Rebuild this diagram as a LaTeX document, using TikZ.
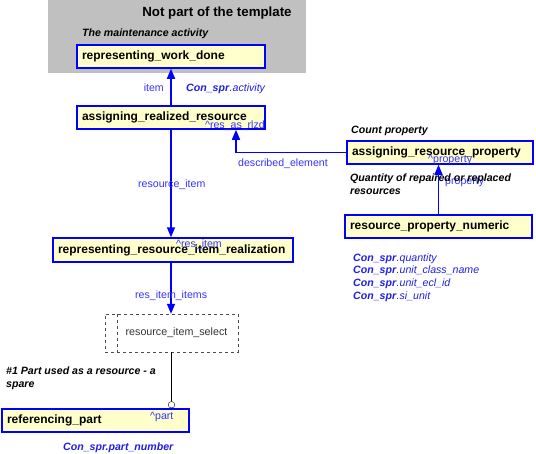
\documentclass[tikz,border=0pt]{standalone}
\usepackage{fontspec}
\setmainfont{Liberation Sans}
\usetikzlibrary{arrows.meta}
\definecolor{boxblue}{RGB}{0,0,255}
\definecolor{boxfill}{RGB}{255,255,204}
\definecolor{lblblue}{RGB}{51,51,255}
\definecolor{sprblue}{RGB}{30,30,230}
\definecolor{bggray}{RGB}{192,192,192}
\begin{document}
\begin{tikzpicture}[x=1pt,y=-1pt,
	entity/.style={draw=boxblue, line width=1.5pt, fill=boxfill, minimum height=23pt, inner xsep=5pt, align=left, font=\fontsize{12}{14}\selectfont\bfseries},
	lbl/.style={text=lblblue, font=\fontsize{10.6}{12}\selectfont, inner sep=0pt, anchor=base west},
	spr/.style={lbl, text=sprblue},
	note/.style={font=\fontsize{10.6}{12.5}\selectfont\bfseries\itshape, inner sep=0pt, anchor=base west, align=left},
	link/.style={draw=boxblue, line width=1.5pt, -{Triangle[width=8pt,length=10pt]}}]
	\useasboundingbox (0,0) rectangle (536,453);
	\fill[bggray] (48,0) rectangle (306,73);
	\draw (217,13) node[font=\fontsize{13.3}{15}\selectfont\bfseries] (title) {Not part of the template};
	\draw (82,36) node[note] (n1) {The maintenance activity};
	
	\draw (171,56.5) node[entity, text width=178pt] (rwd) {representing\_work\_done};
	\draw (171,117.5) node[entity, text width=178pt] (arr) {assigning\_realized\_resource};
	\draw (440,152.5) node[entity, text width=176pt] (arp) {assigning\_resource\_property};
	\draw (438.5,226.5) node[entity, text width=177pt] (rpn) {resource\_property\_numeric};
	\draw (173,250) node[entity, text width=230pt, minimum height=24pt] (rrir) {representing\_resource\_item\_realization};
	\draw (95.5,420.5) node[entity, text width=177pt] (rp) {referencing\_part};
	\draw (171.5,333) node[draw=black!70, dashed, minimum width=133pt, minimum height=38pt, font=\fontsize{10.7}{12}\selectfont, text=black!80] (ris) {\hspace*{10pt}resource\_item\_select};
	\draw[draw=black!70, dashed] ([xshift=12pt]ris.north west) -- ([xshift=12pt]ris.south west);
	
	\draw[link] (arr.north) -- (rwd.south);
	\draw[link] (arr.south) -- (arr.south |- rrir.north);
	\draw[link] (arr.south |- rrir.south) -- (arr.south |- ris.north);
	\draw[link] (arp.west) -| ([xshift=65pt]arr.south);
	\draw[link] (rpn.north) -- (rpn.north |- arp.south);
	\draw[-{Circle[open,length=7pt]}] (ris.south) -- (ris.south |- rp.north);
	
	\draw (164,91) node[lbl, anchor=base east] (l1) {item};
	\draw (186,91) node[spr] (l2) {\textbf{\textit{Con\_spr}}\textit{.activity}};
	\draw (265,128) node[lbl, anchor=base east] (l3) {\textasciicircum res\_as\_rlzd};
	\draw (351,133) node[note] (n2) {Count property};
	\draw (238,166) node[lbl] (l4) {described\_element};
	\draw (428,162) node[lbl] (l5) {\textasciicircum property};
	\draw (445,184) node[lbl] (l6) {property};
	\draw (350,194) node[note] (n3) {Quantity of repaired or replaced\\resources};
	\draw (353,261) node[spr] (c1) {\textbf{\textit{Con\_spr}}\textit{.quantity}};
	\draw (353,273) node[spr] (c2) {\textbf{\textit{Con\_spr}}\textit{.unit\_class\_name}};
	\draw (353,286) node[spr] (c3) {\textbf{\textit{Con\_spr}}\textit{.unit\_ecl\_id}};
	\draw (353,299) node[spr] (c4) {\textbf{\textit{Con\_spr}}\textit{.si\_unit}};
	\draw (138,187) node[lbl] (l7) {resource\_item};
	\draw (176,247) node[lbl] (l8) {\textasciicircum res\_item};
	\draw (135,298) node[lbl] (l9) {res\_item\_items};
	\draw (150,419) node[lbl] (l10) {\textasciicircum part};
	\draw (6,387) node[note] (n4) {\#1 Part used as a resource - a\\spare};
	\draw (63,450) node[spr] (c5) {\textbf{\textit{Con\_spr.part\_number}}};
\end{tikzpicture}
\end{document}
